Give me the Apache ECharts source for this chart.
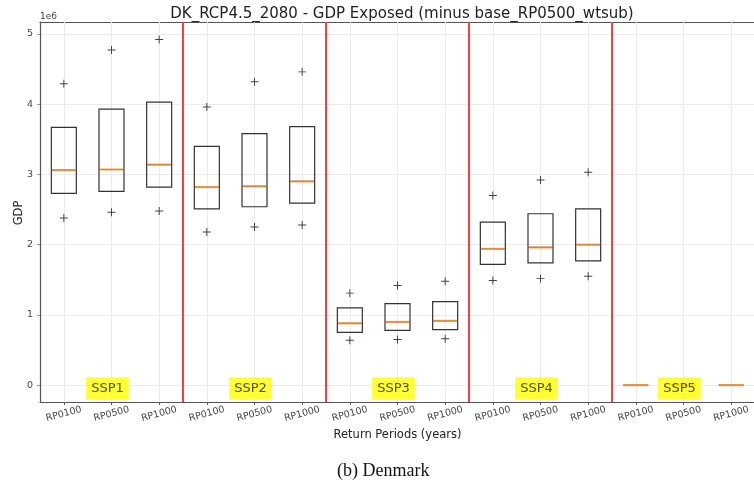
<!DOCTYPE html>
<html><head><meta charset="utf-8">
<script src="https://cdn.jsdelivr.net/npm/echarts@6/dist/echarts.min.js"></script>
<style>html,body{margin:0;padding:0;background:#fff;}#c{width:754px;height:484px;}</style>
</head><body><div id="c"></div>
<script>
// Return periods per scenario group
const categories = ['RP0100','RP0500','RP1000','RP0100','RP0500','RP1000','RP0100','RP0500','RP1000','RP0100','RP0500','RP1000','RP0100','RP0500','RP1000'];
const groups = ['SSP1','SSP2','SSP3','SSP4','SSP5'];
// values in units of 1e6
const q1     = [2.73,2.76,2.82, 2.51,2.54,2.59, 0.75,0.78,0.79, 1.72,1.74,1.77, 0,0,0];
const median = [3.06,3.07,3.14, 2.82,2.83,2.90, 0.88,0.90,0.915, 1.94,1.96,2.00, 0,0,0];
const q3     = [3.67,3.93,4.03, 3.40,3.58,3.68, 1.10,1.16,1.19, 2.32,2.44,2.51, 0,0,0];
const fliersHigh = [4.29,4.77,4.92, 3.96,4.32,4.46, 1.31,1.42,1.48, 2.70,2.92,3.03, null,null,null];
const fliersLow  = [2.38,2.46,2.48, 2.18,2.25,2.28, 0.64,0.65,0.66, 1.49,1.52,1.55, null,null,null];
const yTicks = [0,1,2,3,4,5];

const n = categories.length;
const boxData = q1.map((v,i)=>[q1[i],q1[i],median[i],q3[i],q3[i]]);
const perGroup = 3;
const separators = groups.slice(0,-1).map((g,i)=>(i+1)*perGroup-0.5);
const gridXs = categories.map((c,i)=>i);
const groupCenters = groups.map((g,i)=>[i*perGroup+1, 0]);
const plus = 'path://M0,4.4H10V5.6H0Z M4.4,0H5.6V10H4.4Z';

const chart = echarts.init(document.getElementById('c'));
chart.setOption({
  animation:false,
  title:{text:'DK_RCP4.5_2080 - GDP Exposed (minus base_RP0500_wtsub)', left:397, textAlign:'center', top:2,
    textStyle:{fontFamily:'DejaVu Sans', fontSize:15, fontWeight:'normal', color:'#222'}},
  graphic:[
    {type:'text', left:40, top:12, style:{text:'1e6', font:'9px DejaVu Sans', fill:'#444'}},
    {type:'text', x:19, y:213, rotation:Math.PI/2,
     style:{text:'GDP', font:'11.5px DejaVu Sans', fill:'#222', align:'center', verticalAlign:'middle'}},
    {type:'text', left:337, top:462, style:{text:'(b) Denmark', font:'18px Liberation Serif', fill:'#111'}}
  ],
  grid:{left:40, right:-1, top:22, bottom:82, outerBoundsMode:'none', containLabel:false},
  xAxis:[
    {type:'category', data:categories, boundaryGap:true,
     axisLine:{show:true, onZero:false, lineStyle:{color:'#555', width:1.2}},
     axisTick:{show:true, alignWithLabel:true, length:3, lineStyle:{color:'#555'}}, splitLine:{show:false},
     axisLabel:{rotate:15, align:'center', margin:12, fontFamily:'DejaVu Sans', fontSize:9.5, color:'#444', interval:0},
     name:'Return Periods (years)', nameLocation:'middle', nameGap:27,
     nameTextStyle:{fontFamily:'DejaVu Sans', fontSize:11.5, color:'#222'}},
    {type:'value', min:-0.5, max:n-0.5, position:'top', show:true,
     axisLine:{show:true, onZero:false, lineStyle:{color:'#555', width:1.2}}, axisTick:{show:false}, axisLabel:{show:false}, splitLine:{show:false}}
  ],
  yAxis:{type:'value', min:-0.24, max:5.17, minInterval:1, maxInterval:1,
    axisLine:{show:true, onZero:false, lineStyle:{color:'#555', width:1.2}},
    axisTick:{show:true, length:3, lineStyle:{color:'#999'}},
    splitLine:{show:true, lineStyle:{color:'#ebebeb', width:1}},
    axisLabel:{showMinLabel:false, showMaxLabel:false, fontFamily:'DejaVu Sans', fontSize:9.5, color:'#444', margin:7,
      formatter:v=>yTicks.includes(v)?String(v):''}},
  series:[
    {type:'line', xAxisIndex:1, data:[], silent:true,
     markLine:{silent:true, symbol:'none', label:{show:false}, z:1,
       lineStyle:{color:'#ebebeb', width:1, type:'solid'},
       data:gridXs.map(x=>({xAxis:x}))}},
    {type:'boxplot', xAxisIndex:0, data:boxData, boxWidth:[25,25], z:3,
     itemStyle:{color:'rgba(0,0,0,0)', borderColor:'#333', borderWidth:1.2}},
    {type:'scatter', xAxisIndex:0, data:median, symbol:'rect', symbolSize:[24,2.2], z:4,
     itemStyle:{color:'#ff9a40'}},
    {type:'scatter', xAxisIndex:0, data:fliersHigh, symbol:plus, symbolSize:8, z:4, itemStyle:{color:'#111'}},
    {type:'scatter', xAxisIndex:0, data:fliersLow, symbol:plus, symbolSize:8, z:4, itemStyle:{color:'#111'}},
    {type:'line', xAxisIndex:1, data:[], silent:true,
     markLine:{silent:true, symbol:'none', label:{show:false}, z:5,
       lineStyle:{color:'#ff3b3b', width:2, type:'solid'},
       data:separators.map(x=>({xAxis:x}))}},
    {type:'scatter', xAxisIndex:1, data:groupCenters, symbolSize:0, z:6,
     label:{show:true, position:'inside', offset:[-4,3], formatter:p=>groups[p.dataIndex],
       backgroundColor:'#ffff00', padding:[5,5,4,5], fontFamily:'DejaVu Sans', fontSize:13, color:'#222'}}
  ]
});
</script></body></html>
